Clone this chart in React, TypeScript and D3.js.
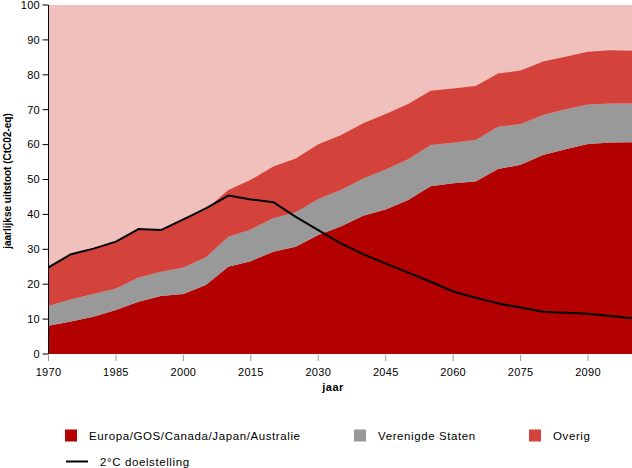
import React from "react";
import * as d3 from "d3";

const years = d3.range(1970, 2101, 5);
const europa = [8.1, 9.3, 10.7, 12.6, 15.0, 16.6, 17.2, 19.8, 25.0, 26.6, 29.3, 30.7, 34.1, 36.5, 39.6, 41.4, 44.1, 48.1, 48.9, 49.4, 53.0, 54.2, 57.0, 58.7, 60.2, 60.6, 60.7];
const verenigdeStaten = [5.65, 6.4, 6.5, 6.2, 6.9, 7.0, 7.6, 7.9, 8.6, 9.1, 9.6, 9.9, 10.3, 10.5, 10.7, 11.5, 11.7, 11.8, 11.6, 11.9, 12.1, 11.7, 11.5, 11.4, 11.3, 11.2, 11.1];
const overig = [11.05, 12.9, 13.0, 13.4, 13.9, 11.9, 13.8, 13.6, 13.4, 14.2, 14.8, 15.4, 15.7, 15.7, 15.8, 15.9, 15.8, 15.5, 15.6, 15.5, 15.3, 15.3, 15.3, 15.1, 15.1, 15.2, 15.1];
const doelstelling = [24.8, 28.6, 30.2, 32.2, 35.8, 35.5, 38.6, 41.7, 45.4, 44.3, 43.5, 39.3, 35.5, 31.7, 28.6, 25.9, 23.3, 20.7, 17.9, 16.1, 14.5, 13.3, 12.1, 11.8, 11.5, 10.9, 10.2];
const xTicks = [1970, 1985, 2000, 2015, 2030, 2045, 2060, 2075, 2090];
const yTicks = [0, 10, 20, 30, 40, 50, 60, 70, 80, 90, 100];

const seriesKeys = ["europa", "vs", "overig"];
const seriesNames = ["Europa/GOS/Canada/Japan/Australie", "Verenigde Staten", "Overig"];
const colors = ["#b30000", "#999999", "#d4433b"];
const bgColor = "#f0c0bd";

export default function App() {
  const W = 632, H = 468;
  const x = d3.scaleLinear().domain([1970, 2100]).range([48.5, 633]);
  const y = d3.scaleLinear().domain([0, 100]).range([354, 5]);
  const table = years.map((yr, i) => ({ year: yr, europa: europa[i], vs: verenigdeStaten[i], overig: overig[i] }));
  const stacked = d3.stack<any>().keys(seriesKeys)(table);
  const area = d3.area<any>().x((d) => x(d.data.year)).y0((d) => y(d[0])).y1((d) => y(d[1]));
  const line = d3.line<number>().x((_, i) => x(years[i])).y((d) => y(d));
  const font = "'Liberation Sans', Arial, sans-serif";
  const legendItems = [
    { name: seriesNames[0], color: colors[0], sx: 65, tx: 89 },
    { name: seriesNames[1], color: colors[1], sx: 354, tx: 378 },
    { name: seriesNames[2], color: colors[2], sx: 529, tx: 553 },
  ];
  return (
    <svg width={W} height={H} style={{ position: "absolute", left: 0, top: 0 }} fontFamily={font}>
      <rect x={0} y={0} width={W} height={H} fill="#fff" />
      <rect x={x(1970)} y={y(100)} width={x(2100) - x(1970)} height={y(0) - y(100)} fill={bgColor} />
      {stacked.map((s, i) => (
        <path key={i} d={area(s) || ""} fill={colors[i]} />
      ))}
      <path d={line(doelstelling) || ""} fill="none" stroke="#000" strokeWidth={2} strokeLinejoin="round" />
      <line x1={48.5} x2={48.5} y1={y(100)} y2={y(0)} stroke="#000" />
      {yTicks.map((t) => (
        <g key={t}>
          <line x1={42.5} x2={48.5} y1={y(t)} y2={y(t)} stroke="#000" />
          <text x={40} y={y(t)} dy="0.35em" textAnchor="end" fontSize={11} letterSpacing={0.3} fill="#000">{t}</text>
        </g>
      ))}
      {xTicks.map((t) => (
        <g key={t}>
          <line x1={x(t)} x2={x(t)} y1={355} y2={361} stroke="#999" />
          <text x={x(t)} y={376} textAnchor="middle" fontSize={11} letterSpacing={0.3} fill="#000">{t}</text>
        </g>
      ))}
      <text x={333} y={391} textAnchor="middle" fontSize={11} letterSpacing={0.5} fontWeight="bold">jaar</text>
      <text transform={`translate(10.5,181) rotate(-90)`} textAnchor="middle" fontSize={10} fontWeight="bold">jaarlijkse uitstoot (CtC02-eq)</text>
      {legendItems.map((it) => (
        <g key={it.name}>
          <rect x={it.sx} y={429.5} width={12} height={12} fill={it.color} />
          <text x={it.tx} y={439.5} fontSize={11.5} letterSpacing={0.6}>{it.name}</text>
        </g>
      ))}
      <line x1={66} x2={88} y1={461.5} y2={461.5} stroke="#000" strokeWidth={2} />
      <text x={100} y={466} fontSize={11.5} letterSpacing={0.6}>2°C doelstelling</text>
    </svg>
  );
}
